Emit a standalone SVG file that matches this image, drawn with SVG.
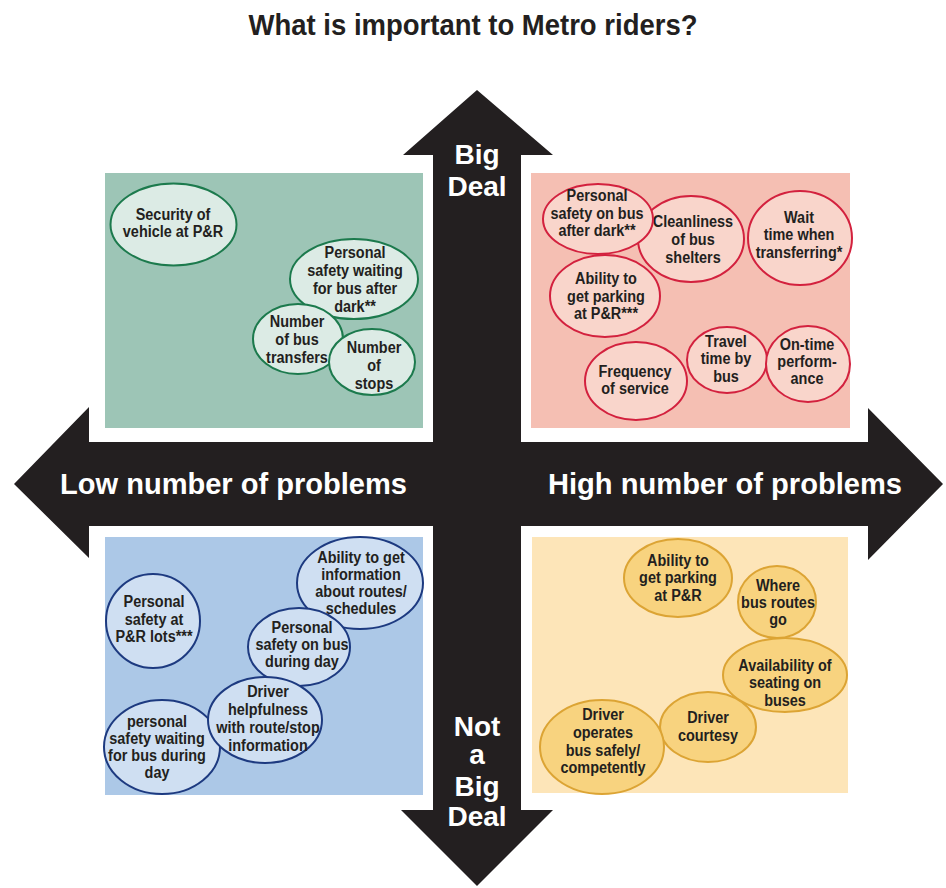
<svg xmlns="http://www.w3.org/2000/svg" width="946" height="888" viewBox="0 0 946 888">
<style>
.bg{fill:#ffffff}
.arrow{fill:#231f20}
.title{font-family:"Liberation Sans",Arial,sans-serif;font-weight:bold;font-size:30px;fill:#231f20}
.axis{font-family:"Liberation Sans",Arial,sans-serif;font-weight:bold;font-size:30px;fill:#ffffff}
.vaxis{font-family:"Liberation Sans",Arial,sans-serif;font-weight:bold;font-size:28px;fill:#ffffff;text-anchor:middle}
.lbl{font-family:"Liberation Sans",Arial,sans-serif;font-weight:bold;font-size:17px;fill:#231f20;text-anchor:middle}
.qg{fill:#9dc5b6}.qp{fill:#f5bfb3}.qb{fill:#acc8e7}.qy{fill:#fde5b8}
.eg{fill:#dcebe5;stroke:#1c7a4d;stroke-width:2}
.ep{fill:#f9d5cb;stroke:#d3213e;stroke-width:2}
.eb{fill:#cfdff2;stroke:#1d3a80;stroke-width:2}
.ey{fill:#f8d37f;stroke:#dca434;stroke-width:2}
</style>
<rect class="bg" x="0" y="0" width="946" height="888"/>
<text class="title" x="473" y="35" text-anchor="middle" textLength="449" lengthAdjust="spacingAndGlyphs">What is important to Metro riders?</text>

<g id="axes">
  <polygon class="arrow" points="477,90 553,155 521,155 521,810 553,810 477,886 401,810 433,810 433,155 403,155"/>
  <polygon class="arrow" points="14,484 89,407 89,442 868,442 868,408 943,484 868,560 868,526 89,526 89,558"/>
</g>

<g id="quadrants">
  <rect class="qg" x="105" y="173" width="318" height="255"/>
  <rect class="qp" x="531" y="173" width="319" height="255"/>
  <rect class="qb" x="105" y="537" width="318" height="258"/>
  <rect class="qy" x="532" y="537" width="316" height="256"/>
</g>

<g id="axis-labels">
  <text class="axis" x="60" y="494" textLength="347" lengthAdjust="spacingAndGlyphs">Low number of problems</text>
  <text class="axis" x="548" y="494" textLength="354" lengthAdjust="spacingAndGlyphs">High number of problems</text>
  <text class="vaxis" x="477" y="164">Big</text>
  <text class="vaxis" x="477" y="196">Deal</text>
  <text class="vaxis" x="477" y="736">Not</text>
  <text class="vaxis" x="477" y="764">a</text>
  <text class="vaxis" x="477" y="796">Big</text>
  <text class="vaxis" x="477" y="826">Deal</text>
</g>

<g id="g1"><ellipse class="eg" cx="173.5" cy="224.5" rx="63" ry="41"/>
<text class="lbl" transform="translate(173 0) scale(0.85 1)"><tspan x="0" y="220">Security of</tspan><tspan x="0" y="237">vehicle at P&amp;R</tspan></text></g>
<g id="g2"><ellipse class="eg" cx="354" cy="279" rx="64" ry="40"/>
<text class="lbl" transform="translate(355 0) scale(0.85 1)"><tspan x="0" y="258">Personal</tspan><tspan x="0" y="276">safety waiting</tspan><tspan x="0" y="294">for bus after</tspan><tspan x="0" y="312">dark**</tspan></text></g>
<g id="g3"><ellipse class="eg" cx="298" cy="339" rx="45" ry="35"/>
<text class="lbl" transform="translate(297 0) scale(0.85 1)"><tspan x="0" y="327">Number</tspan><tspan x="0" y="345">of bus</tspan><tspan x="0" y="363">transfers</tspan></text></g>
<g id="g4"><ellipse class="eg" cx="372" cy="362" rx="43" ry="33"/>
<text class="lbl" transform="translate(374 0) scale(0.85 1)"><tspan x="0" y="353">Number</tspan><tspan x="0" y="371">of</tspan><tspan x="0" y="389">stops</tspan></text></g>

<g id="p2"><ellipse class="ep" cx="691" cy="239" rx="53" ry="43"/>
<text class="lbl" transform="translate(693 0) scale(0.85 1)"><tspan x="0" y="227">Cleanliness</tspan><tspan x="0" y="245">of bus</tspan><tspan x="0" y="263">shelters</tspan></text></g>
<g id="p1"><ellipse class="ep" cx="598" cy="219" rx="55" ry="35"/>
<text class="lbl" transform="translate(597 0) scale(0.85 1)"><tspan x="0" y="201">Personal</tspan><tspan x="0" y="219">safety on bus</tspan><tspan x="0" y="236">after dark**</tspan></text></g>
<g id="p3"><ellipse class="ep" cx="800" cy="238" rx="52" ry="47"/>
<text class="lbl" transform="translate(799 0) scale(0.85 1)"><tspan x="0" y="223">Wait</tspan><tspan x="0" y="240">time when</tspan><tspan x="0" y="258">transferring*</tspan></text></g>
<g id="p4"><ellipse class="ep" cx="605" cy="296" rx="55" ry="41"/>
<text class="lbl" transform="translate(606 0) scale(0.85 1)"><tspan x="0" y="284">Ability to</tspan><tspan x="0" y="302">get parking</tspan><tspan x="0" y="319">at P&amp;R***</tspan></text></g>
<g id="p5"><ellipse class="ep" cx="636" cy="381" rx="51" ry="39"/>
<text class="lbl" transform="translate(635 0) scale(0.85 1)"><tspan x="0" y="377">Frequency</tspan><tspan x="0" y="394">of service</tspan></text></g>
<g id="p6"><ellipse class="ep" cx="727" cy="360" rx="40" ry="33"/>
<text class="lbl" transform="translate(726 0) scale(0.85 1)"><tspan x="0" y="347">Travel</tspan><tspan x="0" y="364">time by</tspan><tspan x="0" y="382">bus</tspan></text></g>
<g id="p7"><ellipse class="ep" cx="808" cy="364" rx="42" ry="38"/>
<text class="lbl" transform="translate(807 0) scale(0.85 1)"><tspan x="0" y="350">On-time</tspan><tspan x="0" y="367">perform-</tspan><tspan x="0" y="384">ance</tspan></text></g>

<g id="b1"><ellipse class="eb" cx="153" cy="621" rx="47" ry="47"/>
<text class="lbl" transform="translate(154 0) scale(0.85 1)"><tspan x="0" y="607">Personal</tspan><tspan x="0" y="625">safety at</tspan><tspan x="0" y="642">P&amp;R lots***</tspan></text></g>
<g id="b2"><ellipse class="eb" cx="360" cy="583" rx="63" ry="46"/>
<text class="lbl" transform="translate(361 0) scale(0.85 1)"><tspan x="0" y="563">Ability to get</tspan><tspan x="0" y="580">information</tspan><tspan x="0" y="597">about routes/</tspan><tspan x="0" y="614">schedules</tspan></text></g>
<g id="b3"><ellipse class="eb" cx="299" cy="647" rx="51" ry="39"/>
<text class="lbl" transform="translate(302 0) scale(0.85 1)"><tspan x="0" y="633">Personal</tspan><tspan x="0" y="650">safety on bus</tspan><tspan x="0" y="667">during day</tspan></text></g>
<g id="b5"><ellipse class="eb" cx="162" cy="747" rx="58" ry="47"/>
<text class="lbl" transform="translate(157 0) scale(0.85 1)"><tspan x="0" y="727">personal</tspan><tspan x="0" y="744">safety waiting</tspan><tspan x="0" y="761">for bus during</tspan><tspan x="0" y="778">day</tspan></text></g>
<g id="b4"><ellipse class="eb" cx="265" cy="720" rx="57" ry="43"/>
<text class="lbl" transform="translate(268 0) scale(0.85 1)"><tspan x="0" y="697">Driver</tspan><tspan x="0" y="715">helpfulness</tspan><tspan x="0" y="733">with route/stop</tspan><tspan x="0" y="751">information</tspan></text></g>

<g id="y1"><ellipse class="ey" cx="678" cy="578" rx="54" ry="39"/>
<text class="lbl" transform="translate(678 0) scale(0.85 1)"><tspan x="0" y="566">Ability to</tspan><tspan x="0" y="583">get parking</tspan><tspan x="0" y="601">at P&amp;R</tspan></text></g>
<g id="y2"><ellipse class="ey" cx="777" cy="602" rx="39" ry="36"/>
<text class="lbl" transform="translate(778 0) scale(0.85 1)"><tspan x="0" y="591">Where</tspan><tspan x="0" y="608">bus routes</tspan><tspan x="0" y="625">go</tspan></text></g>
<g id="y3"><ellipse class="ey" cx="785" cy="675" rx="62" ry="37"/>
<text class="lbl" transform="translate(785 0) scale(0.85 1)"><tspan x="0" y="671">Availability of</tspan><tspan x="0" y="688">seating on</tspan><tspan x="0" y="706">buses</tspan></text></g>
<g id="y4"><ellipse class="ey" cx="708" cy="727" rx="48" ry="35"/>
<text class="lbl" transform="translate(708 0) scale(0.85 1)"><tspan x="0" y="723">Driver</tspan><tspan x="0" y="741">courtesy</tspan></text></g>
<g id="y5"><ellipse class="ey" cx="602" cy="747" rx="62" ry="47"/>
<text class="lbl" transform="translate(603 0) scale(0.85 1)"><tspan x="0" y="720">Driver</tspan><tspan x="0" y="738">operates</tspan><tspan x="0" y="756">bus safely/</tspan><tspan x="0" y="773">competently</tspan></text></g>
</svg>
